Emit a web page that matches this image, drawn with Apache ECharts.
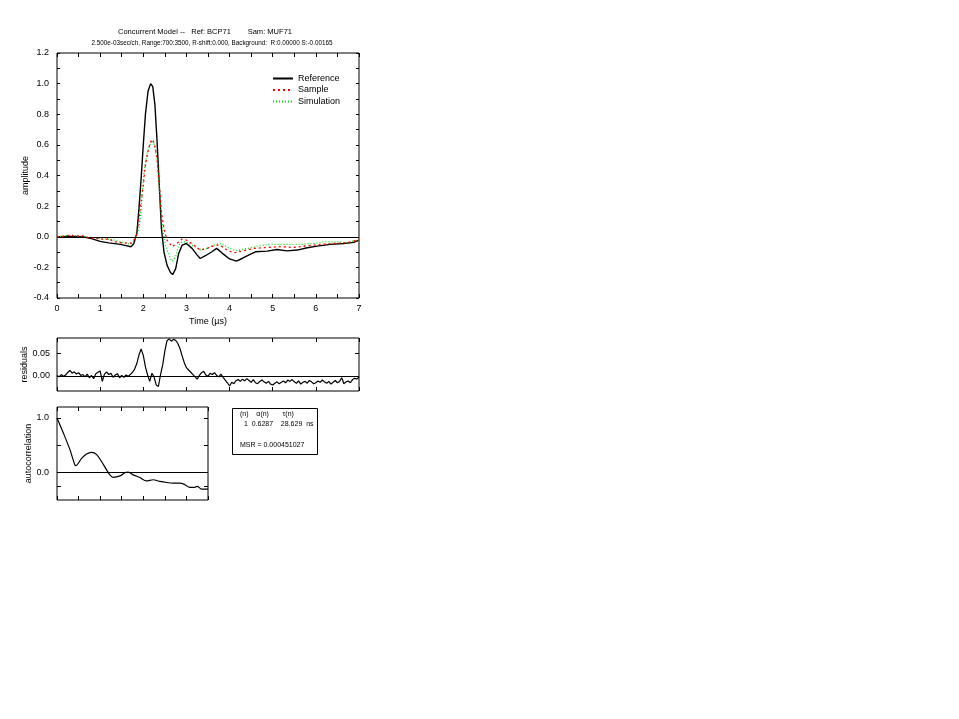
<!DOCTYPE html>
<html>
<head>
<meta charset="utf-8">
<script src="https://cdn.jsdelivr.net/npm/echarts@6/dist/echarts.min.js"></script>
<style>
  html, body { margin: 0; padding: 0; background: #fff; }
  #chart { width: 959px; height: 719px; }
</style>
</head>
<body>
<div id="chart"></div>
<script>
// Reference waveform (time in µs, normalised amplitude)
const refTime = [0.0, 0.3, 0.6, 0.8, 1.0, 1.2, 1.47, 1.6, 1.71, 1.78, 1.85, 1.90, 1.95, 2.00, 2.05, 2.11, 2.17, 2.22, 2.27, 2.32, 2.37, 2.42, 2.48, 2.55, 2.63, 2.68, 2.75, 2.82, 2.90, 3.00, 3.13, 3.25, 3.32, 3.44, 3.59, 3.70, 3.82, 4.00, 4.16, 4.29, 4.44, 4.60, 4.87, 5.10, 5.33, 5.57, 5.80, 6.03, 6.34, 6.65, 6.88, 7.00];
const refAmp  = [0.000, 0.002, 0.000, -0.012, -0.030, -0.040, -0.050, -0.058, -0.065, -0.045, 0.020, 0.185, 0.380, 0.600, 0.800, 0.950, 1.000, 0.980, 0.860, 0.620, 0.340, 0.055, -0.100, -0.185, -0.233, -0.247, -0.210, -0.110, -0.055, -0.044, -0.076, -0.120, -0.142, -0.124, -0.098, -0.076, -0.105, -0.145, -0.159, -0.142, -0.120, -0.098, -0.094, -0.083, -0.092, -0.087, -0.072, -0.061, -0.050, -0.044, -0.037, -0.022];

// Sample waveform
const samTime = [0.0, 0.15, 0.3, 0.45, 0.6, 0.76, 0.9, 1.0, 1.15, 1.2, 1.31, 1.45, 1.54, 1.65, 1.73, 1.81, 1.85, 1.90, 1.95, 2.00, 2.05, 2.11, 2.17, 2.22, 2.27, 2.32, 2.37, 2.42, 2.48, 2.55, 2.67, 2.78, 2.90, 3.00, 3.17, 3.32, 3.48, 3.67, 3.78, 3.94, 4.09, 4.29, 4.56, 4.87, 5.18, 5.49, 5.80, 6.11, 6.42, 6.73, 6.96, 7.00];
const samAmp  = [0.000, 0.003, 0.010, 0.004, 0.006, -0.010, -0.008, -0.015, -0.017, -0.010, -0.033, -0.038, -0.040, -0.042, -0.040, -0.011, 0.020, 0.120, 0.230, 0.340, 0.470, 0.560, 0.620, 0.635, 0.590, 0.510, 0.340, 0.160, 0.055, -0.022, -0.065, -0.044, -0.015, -0.022, -0.055, -0.087, -0.076, -0.055, -0.055, -0.087, -0.105, -0.094, -0.076, -0.070, -0.065, -0.070, -0.059, -0.050, -0.044, -0.039, -0.022, -0.020];

// Simulated waveform
const simTime = [0.0, 0.3, 0.6, 0.8, 1.0, 1.3, 1.5, 1.7, 1.8, 1.85, 1.90, 1.95, 2.02, 2.09, 2.15, 2.22, 2.27, 2.32, 2.37, 2.42, 2.48, 2.55, 2.63, 2.68, 2.75, 2.82, 2.90, 3.00, 3.17, 3.32, 3.48, 3.67, 3.80, 4.00, 4.15, 4.35, 4.60, 4.90, 5.20, 5.64, 6.00, 6.20, 6.50, 6.73, 6.96, 7.00];
const simAmp  = [0.000, 0.010, 0.003, -0.005, -0.012, -0.020, -0.035, -0.048, -0.020, 0.010, 0.055, 0.185, 0.430, 0.545, 0.600, 0.630, 0.590, 0.500, 0.330, 0.130, -0.010, -0.087, -0.142, -0.160, -0.130, -0.055, -0.033, -0.035, -0.060, -0.085, -0.075, -0.050, -0.044, -0.076, -0.090, -0.080, -0.065, -0.050, -0.050, -0.050, -0.042, -0.033, -0.033, -0.039, -0.022, -0.020];

// Fit residuals, sampled every 0.05 µs from 0 to 7
const resStep = 0.05;
const resValue = [
  0.001, -0.002, 0.003, -0.001, 0.002, 0.008, 0.012, 0.006, 0.009, 0.004,
  0.007, 0.001, 0.003, -0.002, 0.004, -0.004, 0.001, -0.006, 0.005, 0.008,
  0.011, -0.012, 0.004, 0.009, 0.003, 0.006, -0.003, 0.002, 0.005, -0.004,
  0.001, -0.003, 0.002, -0.001, 0.003, 0.008, 0.015, 0.027, 0.046, 0.059,
  0.045, 0.020, 0.002, -0.012, 0.006, -0.002, -0.020, -0.023, 0.003, 0.024,
  0.055, 0.077, 0.081, 0.076, 0.080, 0.078, 0.071, 0.060, 0.044, 0.029,
  0.018, 0.013, 0.008, 0.003, -0.002, -0.007, 0.001, 0.007, 0.010, 0.002,
  -0.001, 0.006, 0.003, 0.007, 0.001, -0.002, 0.004, -0.003, -0.009, -0.015,
  -0.022, -0.014, -0.017, -0.010, -0.008, -0.012, -0.007, -0.011, -0.006, -0.010,
  -0.014, -0.008, -0.015, -0.017, -0.012, -0.009, -0.013, -0.016, -0.012, -0.018,
  -0.020, -0.016, -0.013, -0.017, -0.014, -0.011, -0.015, -0.009, -0.012, -0.008,
  -0.013, -0.016, -0.011, -0.018, -0.014, -0.012, -0.016, -0.010, -0.013, -0.017,
  -0.015, -0.011, -0.014, -0.009, -0.013, -0.016, -0.012, -0.018, -0.014, -0.010,
  -0.015, -0.012, -0.004, -0.017, -0.013, -0.011, -0.015, -0.008, -0.005, -0.007,
  -0.002
];

// Autocorrelation of the residuals
const acLag   = [0.0, 0.29, 0.6, 0.83, 0.88, 1.14, 1.37, 1.6, 1.84, 2.07, 2.3, 2.45, 2.6, 2.92, 3.15, 3.3, 3.53, 3.84, 4.15, 4.46, 4.77, 5.08, 5.39, 5.7, 5.93, 6.16, 6.39, 6.5, 6.7, 7.0];
const acValue = [1.0, 0.73, 0.42, 0.14, 0.13, 0.26, 0.34, 0.37, 0.33, 0.20, 0.05, -0.04, -0.085, -0.06, 0.0, 0.01, -0.04, -0.09, -0.15, -0.13, -0.16, -0.18, -0.19, -0.19, -0.22, -0.27, -0.27, -0.25, -0.30, -0.30];

// Tick labels
const ampTicks = [-0.4, -0.2, 0.0, 0.2, 0.4, 0.6, 0.8, 1.0, 1.2];
const resTicks = [0.0, 0.05];
const acTicks = [0.0, 1.0];

// Titles and fit summary
const titleLine1 = 'Concurrent Model --   Ref: BCP71        Sam: MUF71';
const titleLine2 = '2.500e-03sec/ch, Range:700:3500, R-shift:0.000, Background:  R:0.00000 S:-0.00165';
const fitRows = ['(n)    α(n)       τ(n)', '  1  0.6287    28.629  ns'];
const fitMsr = 'MSR = 0.000451027';

const FONT = 'Liberation Sans';
const pair = (xs, ys) => xs.map((x, i) => [x, ys[i]]);
const resData = resValue.map((v, i) => [+(i * resStep).toFixed(2), v]);

// Horizontal squeeze so a text line spans a given width
const measureCtx = document.createElement('canvas').getContext('2d');
function squeeze(text, size, width) {
  measureCtx.font = size + 'px "' + FONT + '"';
  return width / measureCtx.measureText(text).width;
}

const chart = echarts.init(document.getElementById('chart'), null, { renderer: 'canvas' });

const tickCommon = { show: true, inside: true, length: 4, lineStyle: { color: '#000', width: 1 } };
const minorCommon = { show: true, length: 4, splitNumber: 2, lineStyle: { color: '#000', width: 1 } };
const labelCommon = { color: '#000', fontSize: 9, fontFamily: FONT };
const hiddenLine = { show: false, onZero: false };

function xPair(gridIndex, withLabels, name) {
  const base = {
    type: 'value', gridIndex, min: 0, max: 7, interval: 1,
    axisLine: hiddenLine, splitLine: { show: false },
    axisTick: tickCommon,
    minorTick: gridIndex === 0 ? minorCommon : { show: false }
  };
  return [
    Object.assign({}, base, {
      position: 'bottom',
      axisLabel: withLabels ? Object.assign({}, labelCommon, { margin: 6 }) : { show: false },
      name: name || '', nameLocation: 'middle', nameGap: 19,
      nameTextStyle: { color: '#000', fontSize: 9, fontFamily: FONT }
    }),
    Object.assign({}, base, { position: 'top', axisLabel: { show: false } })
  ];
}

function yPair(gridIndex, min, max, extra, label, name) {
  const base = Object.assign({
    type: 'value', gridIndex, min, max,
    axisLine: hiddenLine, splitLine: { show: false }
  }, extra);
  return [
    Object.assign({}, base, {
      position: 'left',
      axisLabel: label,
      name, nameLocation: 'middle', nameGap: 24, nameRotate: 90,
      nameTextStyle: { color: '#000', fontSize: 9, fontFamily: FONT }
    }),
    Object.assign({}, base, { position: 'right', axisLabel: { show: false } })
  ];
}

const zeroLine = {
  silent: true, symbol: 'none', label: { show: false }, animation: false,
  lineStyle: { color: '#000', width: 1, type: 'solid' },
  data: [{ yAxis: 0 }]
};

const option = {
  animation: false,
  backgroundColor: '#fff',
  grid: [
    { left: 57, top: 53, width: 302, height: 245, show: true, borderColor: '#000', borderWidth: 1 },
    { left: 57, top: 338, width: 302, height: 53, show: true, borderColor: '#000', borderWidth: 1 },
    { left: 57, top: 407, width: 151, height: 93, show: true, borderColor: '#000', borderWidth: 1 }
  ],
  xAxis: [].concat(xPair(0, true, 'Time (µs)'), xPair(1, false), xPair(2, false)),
  yAxis: [].concat(
    yPair(0, -0.4, 1.2, {
      interval: 0.2,
      axisTick: Object.assign({}, tickCommon, { length: 3 }),
      minorTick: Object.assign({}, minorCommon, { length: 3 })
    }, Object.assign({}, labelCommon, {
      margin: 8, customValues: ampTicks, formatter: v => v.toFixed(1)
    }), 'amplitude'),
    yPair(1, -0.033, 0.083, {
      axisTick: Object.assign({}, tickCommon, { customValues: resTicks })
    }, Object.assign({}, labelCommon, {
      margin: 7, customValues: resTicks, formatter: v => v.toFixed(2)
    }), 'residuals'),
    yPair(2, -0.5, 1.2, {
      axisTick: Object.assign({}, tickCommon, { customValues: [-0.25, 0.0, 0.5, 1.0] })
    }, Object.assign({}, labelCommon, {
      margin: 8, customValues: acTicks, formatter: v => v.toFixed(1)
    }), 'autocorrelation')
  ),
  legend: {
    data: ['Reference', 'Sample', 'Simulation'],
    orient: 'vertical', left: 272, top: 74, itemGap: 2.5, padding: 0,
    itemWidth: 20, itemHeight: 9,
    itemStyle: { opacity: 0 },
    textStyle: { color: '#000', fontSize: 9, fontFamily: FONT }
  },
  series: [
    {
      name: 'Reference', type: 'line', xAxisIndex: 0, yAxisIndex: 0,
      data: pair(refTime, refAmp), showSymbol: false, symbol: 'none', z: 3,
      lineStyle: { color: '#000', width: 1.4 }, itemStyle: { color: '#000' },
      markLine: zeroLine
    },
    {
      name: 'Sample', type: 'line', xAxisIndex: 0, yAxisIndex: 0,
      data: pair(samTime, samAmp), showSymbol: false, symbol: 'none', z: 5,
      lineStyle: { color: '#ff0000', width: 1.3, type: [2, 3] }, itemStyle: { color: '#ff0000' }
    },
    {
      name: 'Simulation', type: 'line', xAxisIndex: 0, yAxisIndex: 0,
      data: pair(simTime, simAmp), showSymbol: false, symbol: 'none', z: 4,
      lineStyle: { color: '#00e000', width: 1.3, type: [1, 2] }, itemStyle: { color: '#00e000' }
    },
    {
      name: 'residuals', type: 'line', xAxisIndex: 2, yAxisIndex: 2,
      data: resData, showSymbol: false, symbol: 'none',
      lineStyle: { color: '#000', width: 1.2 },
      markLine: zeroLine
    },
    {
      name: 'autocorrelation', type: 'line', xAxisIndex: 4, yAxisIndex: 4,
      data: pair(acLag, acValue), showSymbol: false, symbol: 'none', smooth: 0.3,
      lineStyle: { color: '#000', width: 1.2 },
      markLine: zeroLine
    }
  ],
  graphic: [
    {
      type: 'text', x: 205, y: 28, scaleX: squeeze(titleLine1, 8, 174),
      style: { text: titleLine1, fill: '#000', fontSize: 8, fontFamily: FONT, align: 'center' }
    },
    {
      type: 'text', x: 212, y: 40, scaleX: squeeze(titleLine2, 7, 241),
      style: { text: titleLine2, fill: '#000', fontSize: 7, fontFamily: FONT, align: 'center' }
    },
    {
      type: 'rect', shape: { x: 232.5, y: 408.5, width: 85, height: 46 },
      style: { fill: '#fff', stroke: '#000', lineWidth: 1 }
    },
    {
      type: 'text', x: 240, y: 411,
      style: { text: fitRows[0], fill: '#000', fontSize: 7, fontFamily: FONT }
    },
    {
      type: 'text', x: 240, y: 421,
      style: { text: fitRows[1], fill: '#000', fontSize: 7, fontFamily: FONT }
    },
    {
      type: 'text', x: 240, y: 442,
      style: { text: fitMsr, fill: '#000', fontSize: 7, fontFamily: FONT }
    }
  ]
};

chart.setOption(option);
</script>
</body>
</html>
